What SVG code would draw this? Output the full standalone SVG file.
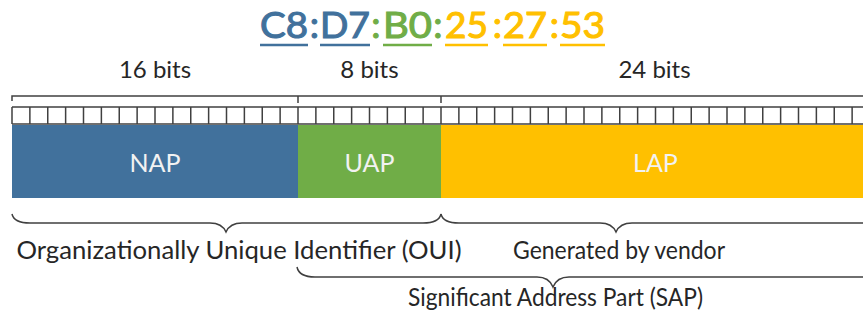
<svg xmlns="http://www.w3.org/2000/svg" width="863" height="320" viewBox="0 0 863 320">
<style>
text{font-family:Lato,"Open Sans","Liberation Sans",sans-serif;}
.t{font-size:37px;stroke-width:1.1;}
.c{text-anchor:middle;}
.b{fill:#41719C;stroke:#41719C;}
.g{fill:#70AD47;stroke:#70AD47;}
.y{fill:#FFC000;stroke:#FFC000;}
.ul{stroke-width:2.6;}
.lbl{font-size:24px;fill:#262626;text-anchor:middle;}
.in{font-size:25px;fill:#F2F2F2;text-anchor:middle;}
.br{font-size:25.5px;fill:#262626;text-anchor:middle;}
.ln{fill:none;stroke:#404040;stroke-width:1.5;}
</style>
<g id="title">
<text class="t b" x="260" y="38" textLength="48" lengthAdjust="spacingAndGlyphs">C8</text>
<text class="t b c" x="314.5" y="38">:</text>
<text class="t b" x="320" y="38" textLength="50" lengthAdjust="spacingAndGlyphs">D7</text>
<text class="t g c" x="376" y="38">:</text>
<text class="t g" x="383" y="38" textLength="49" lengthAdjust="spacingAndGlyphs">B0</text>
<text class="t g c" x="438" y="38">:</text>
<text class="t y" x="445" y="38" textLength="43" lengthAdjust="spacingAndGlyphs">25</text>
<text class="t y c" x="497.5" y="38">:</text>
<text class="t y" x="503" y="38" textLength="44" lengthAdjust="spacingAndGlyphs">27</text>
<text class="t y c" x="554.5" y="38">:</text>
<text class="t y" x="560" y="38" textLength="45" lengthAdjust="spacingAndGlyphs">53</text>
<line class="ul" x1="260" y1="45" x2="308" y2="45" stroke="#41719C"/>
<line class="ul" x1="320" y1="45" x2="370" y2="45" stroke="#41719C"/>
<line class="ul" x1="383" y1="45" x2="432" y2="45" stroke="#70AD47"/>
<line class="ul" x1="445" y1="45" x2="488" y2="45" stroke="#FFC000"/>
<line class="ul" x1="503" y1="45" x2="547" y2="45" stroke="#FFC000"/>
<line class="ul" x1="560" y1="45" x2="605" y2="45" stroke="#FFC000"/>
</g>
<g id="bit-labels">
<text class="lbl" x="155" y="78">16 bits</text>
<text class="lbl" x="369.5" y="78">8 bits</text>
<text class="lbl" x="654.5" y="78">24 bits</text>
</g>
<g id="ruler">
<path class="ln" d="M12,101V96H870M298,96V103M441,96V103"/>
<path class="ln" d="M12,107H870M12,124H870"/>
<path class="ln" d="M12,107V124M29.875,107V124M47.75,107V124M65.625,107V124M83.5,107V124M101.375,107V124M119.25,107V124M137.125,107V124M155,107V124M172.875,107V124M190.75,107V124M208.625,107V124M226.5,107V124M244.375,107V124M262.25,107V124M280.125,107V124M298,107V124M315.875,107V124M333.75,107V124M351.625,107V124M369.5,107V124M387.375,107V124M405.25,107V124M423.125,107V124M441,107V124M458.875,107V124M476.75,107V124M494.625,107V124M512.5,107V124M530.375,107V124M548.25,107V124M566.125,107V124M584,107V124M601.875,107V124M619.75,107V124M637.625,107V124M655.5,107V124M673.375,107V124M691.25,107V124M709.125,107V124M727,107V124M744.875,107V124M762.75,107V124M780.625,107V124M798.5,107V124M816.375,107V124M834.25,107V124M852.125,107V124"/>
</g>
<g id="nap">
<rect x="12" y="125" width="286" height="73" fill="#41719C"/>
<text class="in" x="155" y="172">NAP</text>
</g>
<g id="uap">
<rect x="298" y="125" width="143" height="73" fill="#70AD47"/>
<text class="in" x="369.5" y="172">UAP</text>
</g>
<g id="lap">
<rect x="441" y="125" width="430" height="73" fill="#FFC000"/>
<text class="in" x="655.5" y="172">LAP</text>
</g>
<g id="connectors">
<path class="ln" d="M12,214Q14,223 30,223L210,223Q222,223 226,232Q230,223 242,223L423,223Q439,223 441,214"/>
<path class="ln" d="M441,214Q443,223 459,223L600,223Q612,223 616,232Q620,223 632,223L870,223"/>
<path class="ln" d="M297,267Q299,277 315,277L537,277Q549,277 553,287Q557,277 569,277L870,277"/>
</g>
<g id="oui">
<text class="br" x="239" y="259" textLength="445" lengthAdjust="spacingAndGlyphs">Organizationally Unique Identifier (OUI)</text>
</g>
<g id="vendor">
<text class="br" x="619" y="259" textLength="212" lengthAdjust="spacingAndGlyphs">Generated by vendor</text>
</g>
<g id="sap">
<text class="br" x="555.5" y="306" textLength="295" lengthAdjust="spacingAndGlyphs">Significant Address Part (SAP)</text>
</g>
</svg>
